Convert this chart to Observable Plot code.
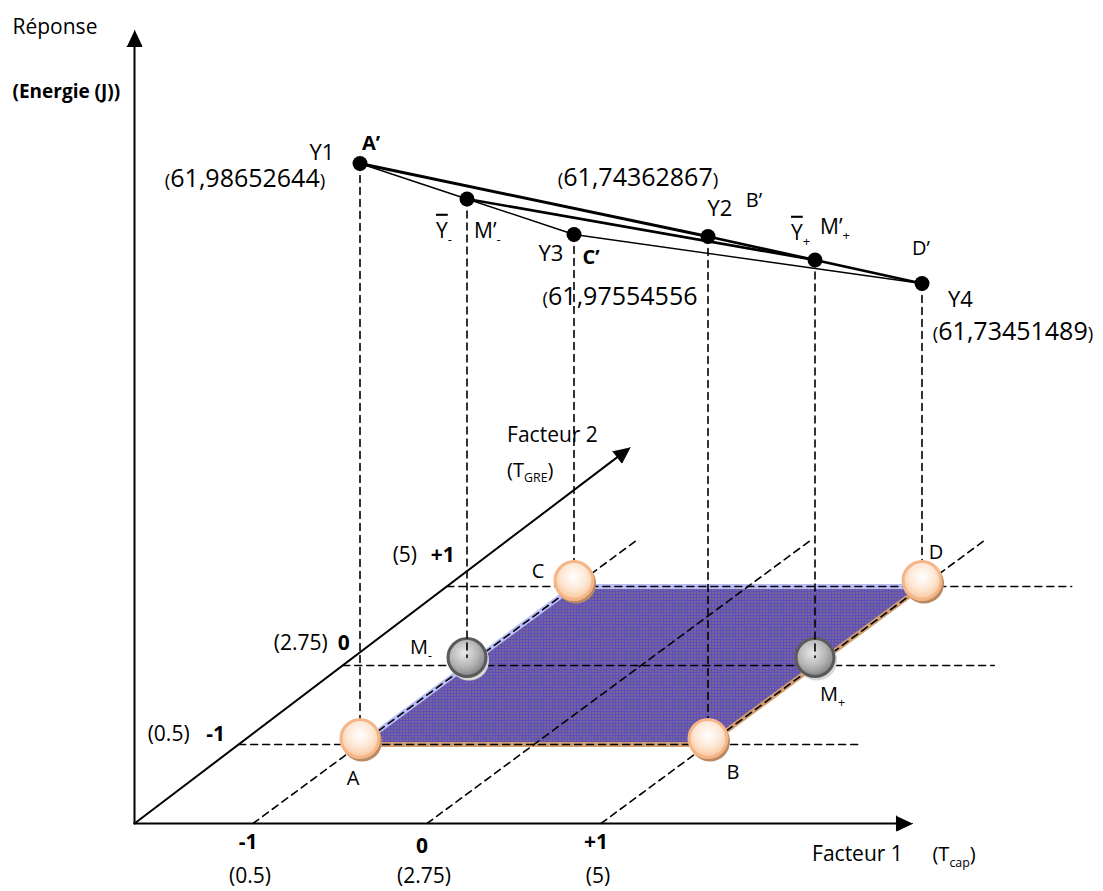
<!DOCTYPE html>
<html><head><meta charset="utf-8">
<script src="https://cdn.jsdelivr.net/npm/d3@7"></script>
<script src="https://cdn.jsdelivr.net/npm/@observablehq/plot@0.6"></script>
<style>html,body{margin:0;padding:0;background:#fff}svg{display:block}</style>
</head><body><div id="chart"></div>
<script>
// ---------------- data ----------------
const cornerNames = ["A", "B", "C", "D"];
const factor1Level = [-1, 1, -1, 1];          // coded level of Facteur 1 (T_cap)
const factor2Level = [-1, -1, 1, 1];          // coded level of Facteur 2 (T_GRE)
const responseNames = ["Y1", "Y2", "Y3", "Y4"];
const responsePrimes = ["A’", "B’", "C’", "D’"];
const responseValues = ["61,98652644", "61,74362867", "61,97554556", "61,73451489"];
const drawnHeight = [581, 508, 352, 303];     // schematic height of each response above its corner
const codedLevels = [-1, 0, 1];
const codedTickLabels = ["-1", "0", "+1"];
const factor1RealLabels = ["(0.5)", "(2.75)", "(5)"];
const factor2RealLabels = ["(0.5)", "(2.75)", "(5)"];

// ---------------- oblique projection (layout) ----------------
const L = {x0: 640.5, y0: 665, a: 174, b: 107, c: 79};
const proj = (f1, f2, h = 0) => ({x: L.x0 + L.a * f1 + L.b * f2, y: L.y0 - L.c * f2 - h});
const AX = {oF1: -1.681, oF2: -2, f1Tip: 2.79, hTip: 793, tipF1: -1.76, tipF2: 2.76, gridF2End: 1.6, rowEndF1: [1.86, 2.03, 1.86]};
const axisF1At = f2 => AX.oF1 + (f2 - AX.oF2) / (AX.tipF2 - AX.oF2) * (AX.tipF1 - AX.oF1);

const corners = cornerNames.map((name, i) => ({
  name, f1: factor1Level[i], f2: factor2Level[i], h: drawnHeight[i],
  yname: responseNames[i], prime: responsePrimes[i], value: responseValues[i]
}));
const byName = Object.fromEntries(corners.map(d => [d.name, d]));
const means = [
  {sign: "-", f1: -1, f2: 0, h: (byName.A.h + byName.C.h) / 2},
  {sign: "+", f1: 1, f2: 0, h: (byName.B.h + byName.D.h) / 2}
];
corners.forEach(d => { d.top = proj(d.f1, d.f2, d.h); d.base = proj(d.f1, d.f2, 0); d.ball = proj(d.f1, d.f2, 6); });
means.forEach(d => { d.top = proj(d.f1, d.f2, d.h); d.base = proj(d.f1, d.f2, 0); d.ball = proj(d.f1, d.f2, 8); });

// axes geometry
const origin = proj(AX.oF1, AX.oF2, 0);
const tipF1 = proj(AX.f1Tip, AX.oF2, 0);
const tipH = proj(AX.oF1, AX.oF2, AX.hTip);
const tipF2 = proj(AX.tipF1, AX.tipF2, 0);
function arrowHead(from, tip, len = 16, half = 7.5) {
  const dx = tip.x - from.x, dy = tip.y - from.y, n = Math.hypot(dx, dy);
  const ux = dx / n, uy = dy / n, bx = tip.x - len * ux, by = tip.y - len * uy;
  return {base: {x: bx, y: by}, tri: [tip, {x: bx - half * uy, y: by + half * ux}, {x: bx + half * uy, y: by - half * ux}]};
}
const axes = [[origin, tipF1], [origin, tipH], [origin, tipF2]].map(([o, t], i) => {
  const ah = arrowHead(o, t);
  return {id: i, line: [o, ah.base], tri: ah.tri};
});
const axisLines = axes.flatMap(a => a.line.map(p => ({...p, id: a.id})));
const arrowTris = axes.flatMap(a => a.tri.map(p => ({...p, id: a.id})));

// dashed guide lines on the base plane
const f1Guides = codedLevels.flatMap(l => [proj(l, AX.oF2), proj(l, AX.gridF2End)].map(p => ({...p, id: "f1" + l})));
const f2Starts = codedLevels.map(l => proj(axisF1At(l), l));
const f2Guides = codedLevels.flatMap((l, i) => [f2Starts[i], proj(AX.rowEndF1[i], l)].map(p => ({...p, id: "f2" + l})));
const verticals = [
  ...corners.flatMap(d => [d.top, d.base].map(p => ({...p, id: d.name}))),
  ...means.flatMap(d => [d.top, d.ball].map(p => ({...p, id: "m" + d.sign})))
];

// plane
const A = byName.A.base, B = byName.B.base, C = byName.C.base, D = byName.D.base;
const plane = [{y: C.y, x1: C.x, x2: D.x}, {y: A.y, x1: A.x, x2: B.x}];
const brownEdges = [A, B, D].map(p => ({...p}));
const blueEdges = [A, C, D].map(p => ({...p}));

// response polygon lines
const T = n => byName[n].top;
const Mm = means[0].top, Mp = means[1].top;
const segs = [
  {pts: [T("A"), T("B")], w: 3},
  {pts: [T("B"), T("D")], w: 2.6},
  {pts: [Mm, Mp], w: 2.6},
  {pts: [T("A"), Mm, T("C")], w: 1.4},
  {pts: [T("C"), T("D")], w: 1.4}
];

// ---------------- labels ----------------
const labels = [];
function lab(p, dx, dy, text, size = 22, weight = "normal", anchor = "middle") {
  labels.push({x: p.x + dx, y: p.y + dy, text, size, weight, anchor});
}
const tA = T("A"), tB = T("B"), tC = T("C"), tD = T("D");
lab(tA, -38, -11, byName.A.yname);
lab(tA, -115, 15, "%{(}" + byName.A.value + "%{)}", 25);
lab(tA, 11, -20, byName.A.prime, 20, "bold");
lab(tB, 12, -28, byName.B.yname);
lab(tB, 46, -36, byName.B.prime, 20);
lab(tB, -70, -59, "%{(}" + byName.B.value + "%{)}", 25);
lab(tC, -23, 19, byName.C.yname);
lab(tC, 17, 23, byName.C.prime, 20, "bold");
lab(tC, 46, 62, "%{(}" + byName.C.value, 25);
lab(tD, -1, -35, byName.D.prime, 20);
lab(tD, 26, 16, byName.D.yname, 22, "normal", "start");
lab(tD, 91, 48, "%{(}" + byName.D.value + "%{)}", 25);
lab(Mm, -31, 32, "~{Y}_{-}", 21, "normal", "start");
lab(Mm, 7, 32, "M’_{-}", 21, "normal", "start");
lab(Mp, -24, -27, "~{Y}_{+}", 21, "normal", "start");
lab(Mp, 5, -33, "M’_{+}", 21, "normal", "start");
// base points
const bA = byName.A.ball, bB = byName.B.ball, bC = byName.C.ball, bD = byName.D.ball;
lab(bA, -7, 40, "A", 20);
lab(bB, 25, 34, "B", 20);
lab(bC, -36, -9, "C", 20);
lab(bD, 14, -28, "D", 20);
lab(means[0].ball, -57, -10, "M_{-}", 20, "normal", "start");
lab(means[1].ball, 5, 37, "M_{+}", 20, "normal", "start");
// factor 2 ticks
const f2CodeOff = [[-23, -10], [1, -22], [-4, -31]];
const f2RealOff = [[-70, -10], [-42, -22], [-42, -31]];
codedLevels.forEach((l, i) => {
  lab(f2Starts[i], ...f2CodeOff[i], codedTickLabels[i], 21, "bold");
  lab(f2Starts[i], ...f2RealOff[i], factor2RealLabels[i], 21);
});
// factor 1 ticks
codedLevels.forEach((l, i) => {
  const p = proj(l, AX.oF2);
  lab(p, -5, 19 + (l === 0 ? 4 : 0), codedTickLabels[i], 21, "bold");
  lab(p, -3, 53, factor1RealLabels[i], 21);
});
// axis titles
lab(tipF1, -55, 31, "Facteur 1", 21);
lab(tipF1, 20, 31, "(T_{cap})", 20, "normal", "start");
lab(tipF2, -123, -12, "Facteur 2", 21, "normal", "start");
lab(tipF2, -123, 23, "(T_{GRE})", 20, "normal", "start");
lab(tipH, -122, -3, "Réponse", 21, "normal", "start");
lab(tipH, -122, 61, "(Energie (J))", 19, "bold", "start");

const groups = d3.groups(labels, d => d.size + "|" + d.weight + "|" + d.anchor);
const textMarks = groups.map(([k, arr]) => Plot.text(arr, {
  x: "x", y: "y", text: "text", fill: "black",
  fontSize: arr[0].size, fontWeight: arr[0].weight, textAnchor: arr[0].anchor
}));

const dash = "7,5";
const orange = corners;
const plot = Plot.plot({
  width: 1103, height: 891, margin: 0,
  x: {domain: [0, 1103], range: [0, 1103], axis: null},
  y: {domain: [0, 891], range: [0, 891], axis: null},
  style: {fontFamily: "'Open Sans', sans-serif", background: "white"},
  marks: [
    // plane
    Plot.areaX(plane, {y: "y", x1: "x1", x2: "x2", fill: "url(#planePat)"}),
    Plot.line(blueEdges, {x: "x", y: "y", stroke: "#b9bdf6", strokeWidth: 5}),
    Plot.line(brownEdges, {x: "x", y: "y", stroke: "#cf9d70", strokeWidth: 5}),
    // dashed guides
    Plot.line(f1Guides, {x: "x", y: "y", z: "id", stroke: "black", strokeWidth: 1.6, strokeDasharray: dash}),
    Plot.line(f2Guides, {x: "x", y: "y", z: "id", stroke: "black", strokeWidth: 1.6, strokeDasharray: dash}),
    // gray mean spheres
    Plot.dot(means, {x: d => d.ball.x + 2, y: d => d.ball.y + 3, r: 20, fill: "#d8d8d8", stroke: "none"}),
    Plot.dot(means, {x: d => d.ball.x, y: d => d.ball.y, r: 19, fill: "url(#grayGrad)", stroke: "#5a5a5a", strokeWidth: 3}),
    // verticals
    Plot.line(verticals, {x: "x", y: "y", z: "id", stroke: "black", strokeWidth: 1.6, strokeDasharray: dash}),
    // orange corner spheres
    Plot.dot(orange, {x: d => d.ball.x + 2, y: d => d.ball.y + 3, r: 20, fill: "#b98a63", stroke: "none"}),
    Plot.dot(orange, {x: d => d.ball.x, y: d => d.ball.y, r: 19, fill: "url(#orangeGrad)", stroke: "#f5b586", strokeWidth: 3}),
    // axes
    Plot.line(axisLines, {x: "x", y: "y", z: "id", stroke: "black", strokeWidth: 2}),
    Plot.line(arrowTris, {x: "x", y: "y", z: "id", fill: "black", stroke: "black", strokeWidth: 1}),
    // response lines
    ...segs.map(s => Plot.line(s.pts, {x: "x", y: "y", stroke: "black", strokeWidth: s.w})),
    Plot.dot([...corners.map(d => d.top), ...means.map(d => d.top)], {x: "x", y: "y", r: 7.5, fill: "black"}),
    ...textMarks
  ]
});
document.getElementById("chart").appendChild(plot);

// defs: pattern and gradients
const NS = "http://www.w3.org/2000/svg";
const defs = document.createElementNS(NS, "defs");
defs.innerHTML = `
<pattern id="planePat" width="3" height="3" patternUnits="userSpaceOnUse">
  <rect width="3" height="3" fill="#7a6496"/>
  <rect width="3" height="1" fill="#5c50bd"/>
  <rect width="1" height="3" fill="#5c50bd"/>
</pattern>
<radialGradient id="orangeGrad" cx="50%" cy="40%" r="60%">
  <stop offset="0%" stop-color="#ffffff"/>
  <stop offset="55%" stop-color="#fde8d6"/>
  <stop offset="100%" stop-color="#f8c59a"/>
</radialGradient>
<radialGradient id="grayGrad" cx="42%" cy="38%" r="62%">
  <stop offset="0%" stop-color="#e8e8e8"/>
  <stop offset="60%" stop-color="#b5b5b5"/>
  <stop offset="100%" stop-color="#858585"/>
</radialGradient>`;
plot.insertBefore(defs, plot.firstChild);

// simple markup: _{sub}, ~{overline}, %{small}
plot.querySelectorAll("text").forEach(t => {
  const s = t.textContent;
  if (!/[_~%]\{/.test(s)) return;
  const fs = parseFloat(getComputedStyle(t).fontSize) || 20;
  const parts = []; let last = 0, m; const re = /([_~%])\{([^}]*)\}/g;
  while ((m = re.exec(s))) {
    if (m.index > last) parts.push({k: "", t: s.slice(last, m.index)});
    parts.push({k: m[1], t: m[2]}); last = re.lastIndex;
  }
  if (last < s.length) parts.push({k: "", t: s.slice(last)});
  t.textContent = "";
  let shift = 0;
  for (const p of parts) {
    const ts = document.createElementNS(NS, "tspan");
    ts.textContent = p.t;
    let target = 0;
    if (p.k === "_") { ts.setAttribute("font-size", (fs * 0.62) + "px"); target = fs * 0.28; }
    if (p.k === "%") { ts.setAttribute("font-size", (fs * 0.75) + "px"); }
    if (p.k === "~") { ts.setAttribute("style", "text-decoration: overline"); }
    if (target !== shift) { ts.setAttribute("dy", target - shift); shift = target; }
    t.appendChild(ts);
  }
});
</script>
</body></html>
